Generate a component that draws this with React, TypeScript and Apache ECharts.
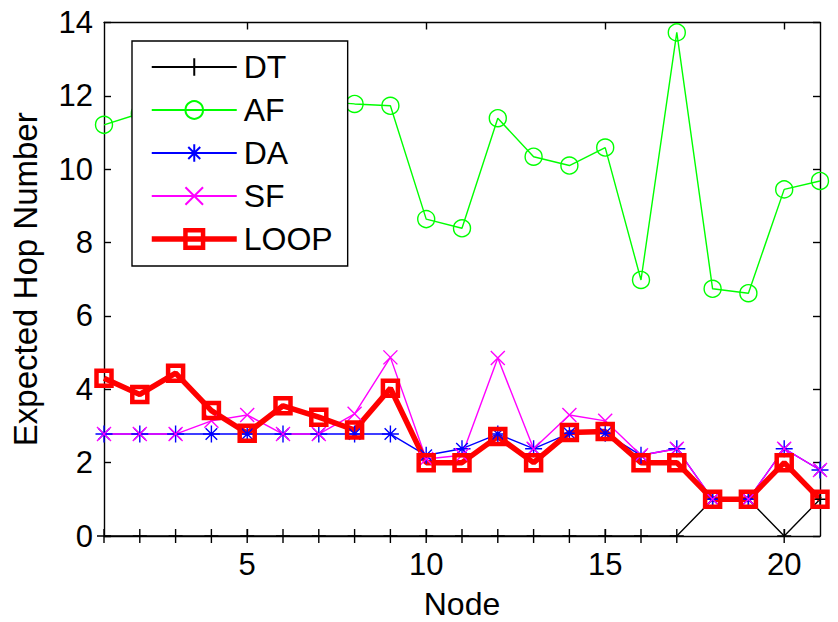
import React, { useEffect, useRef } from "react";
import * as echarts from "echarts";

const nodes = [1, 2, 3, 4, 5, 6, 7, 8, 9, 10, 11, 12, 13, 14, 15, 16, 17, 18, 19, 20, 21];
const dtValues = [0, 0, 0, 0, 0, 0, 0, 0, 0, 0, 0, 0, 0, 0, 0, 0, 0, 1, 1, 0, 1];
const afValues = [11.21, 11.52, 11.9, 12.2, 11.6, 12.0, 11.85, 11.78, 11.73, 8.64, 8.39, 11.39, 10.34, 10.1, 10.59, 6.98, 13.73, 6.74, 6.62, 9.45, 9.68];
const daValues = [2.78, 2.78, 2.78, 2.78, 2.78, 2.78, 2.78, 2.78, 2.78, 2.2, 2.38, 2.78, 2.38, 2.8, 2.8, 2.2, 2.38, 1, 1, 2.38, 1.8];
const sfValues = [2.78, 2.78, 2.78, 3.14, 3.3, 2.78, 2.78, 3.33, 4.87, 2.1, 2.2, 4.85, 2.38, 3.3, 3.14, 2.2, 2.38, 1, 1, 2.38, 1.8];
const loopValues = [4.3, 3.86, 4.44, 3.42, 2.8, 3.55, 3.24, 2.89, 4.03, 2, 2, 2.71, 2, 2.82, 2.85, 2, 2, 1, 1, 2, 1];
const xTickLabels = [5, 10, 15, 20];
const seriesNames = ["DT", "AF", "DA", "SF", "LOOP"];

const FONT = "'Liberation Sans', Arial, Helvetica, sans-serif";

const PLUS = "path://M5,0L5,10M0,5L10,5";
const CROSS = "path://M0,0L10,10M10,0L0,10";
const STAR = "path://M5,0L5,10M0,5L10,5M1.6,1.6L8.4,8.4M8.4,1.6L1.6,8.4";

const LOOP_LINE_W = 5.5;
const LOOP_MARK_W = 4.5;

function pairs(vals: number[]) {
  return nodes.map((n, i) => [n, vals[i]]);
}

export default function App() {
  const ref = useRef<HTMLDivElement>(null);
  useEffect(() => {
    if (!ref.current) return;
    const chart = echarts.init(ref.current, undefined, { renderer: "svg" });
    const thinSeries = (name: string, vals: number[], color: string, symbol: string, size: number) => ({
      name,
      type: "line",
      data: pairs(vals),
      symbol,
      symbolSize: size,
      showAllSymbol: true,
      clip: false,
      lineStyle: { color, width: 1.4 },
      itemStyle: { color: "rgba(0,0,0,0)", borderColor: color, borderWidth: 1.4 },
      emphasis: { disabled: true },
    });
    const legendData = seriesNames.map((n) =>
      n === "LOOP"
        ? { name: n, lineStyle: { width: LOOP_LINE_W, color: "#ff0000" }, itemStyle: { borderWidth: LOOP_MARK_W, borderColor: "#ff0000", color: "rgba(0,0,0,0)" } }
        : { name: n }
    );
    const option: any = {
      animation: false,
      backgroundColor: "#fff",
      textStyle: { fontFamily: FONT },
      grid: { left: 104, right: 18, top: 22.5, bottom: 86, containLabel: false, outerBoundsMode: "none" },
      legend: {
        data: legendData,
        orient: "vertical",
        left: 132,
        top: 41,
        itemWidth: 85,
        itemHeight: 22,
        itemGap: 11,
        padding: [10, 15, 11, 17],
        borderColor: "#000",
        borderWidth: 1.4,
        backgroundColor: "#fff",
        textStyle: { fontSize: 32, color: "#000", fontFamily: FONT, padding: [0, 0, 0, 2] },
        selectedMode: false,
      },
      xAxis: [
        {
          type: "value",
          min: 1,
          max: 21,
          position: "bottom",
          name: "Node",
          nameLocation: "middle",
          nameGap: 52,
          nameTextStyle: { fontSize: 32, color: "#000", fontFamily: FONT },
          axisLine: { onZero: false, lineStyle: { color: "#000", width: 1.4 } },
          axisTick: { inside: true, length: 7, customValues: xTickLabels, lineStyle: { color: "#000", width: 1.4 } },
          axisLabel: { customValues: xTickLabels, fontSize: 31, color: "#000", margin: 13, fontFamily: FONT },
          splitLine: { show: false },
        },
        {
          type: "value",
          min: 1,
          max: 21,
          position: "top",
          axisLine: { onZero: false, lineStyle: { color: "#000", width: 1.4 } },
          axisTick: { inside: true, length: 7, customValues: xTickLabels, lineStyle: { color: "#000", width: 1.4 } },
          axisLabel: { show: false },
          splitLine: { show: false },
        },
      ],
      yAxis: [
        {
          type: "value",
          min: 0,
          max: 14,
          interval: 2,
          position: "left",
          name: "Expected Hop Number",
          nameLocation: "middle",
          nameGap: 62,
          nameTextStyle: { fontSize: 33, color: "#000", fontFamily: FONT },
          axisLine: { show: true, onZero: false, lineStyle: { color: "#000", width: 1.4 } },
          axisTick: { show: true, inside: true, length: 7, lineStyle: { color: "#000", width: 1.4 } },
          axisLabel: { fontSize: 31, color: "#000", margin: 11, fontFamily: FONT },
          splitLine: { show: false },
        },
        {
          type: "value",
          min: 0,
          max: 14,
          interval: 2,
          position: "right",
          axisLine: { show: true, onZero: false, lineStyle: { color: "#000", width: 1.4 } },
          axisTick: { show: true, inside: true, length: 7, lineStyle: { color: "#000", width: 1.4 } },
          axisLabel: { show: false },
          splitLine: { show: false },
        },
      ],
      series: [
        thinSeries("DT", dtValues, "#000000", PLUS, 14),
        thinSeries("AF", afValues, "#00ff00", "circle", 17),
        thinSeries("DA", daValues, "#0000ff", STAR, 17),
        thinSeries("SF", sfValues, "#ff00ff", CROSS, 14),
        {
          name: "LOOP",
          type: "line",
          data: pairs(loopValues),
          symbol: "rect",
          symbolSize: 15,
          showAllSymbol: true,
          clip: false,
          lineStyle: { color: "#ff0000", width: LOOP_LINE_W },
          itemStyle: { color: "rgba(0,0,0,0)", borderColor: "#ff0000", borderWidth: LOOP_MARK_W },
          emphasis: { disabled: true },
        },
      ],
    };
    chart.setOption(option);
    return () => chart.dispose();
  }, []);
  return <div ref={ref} style={{ width: 838, height: 622, position: "absolute", left: 0, top: 0 }} />;
}
